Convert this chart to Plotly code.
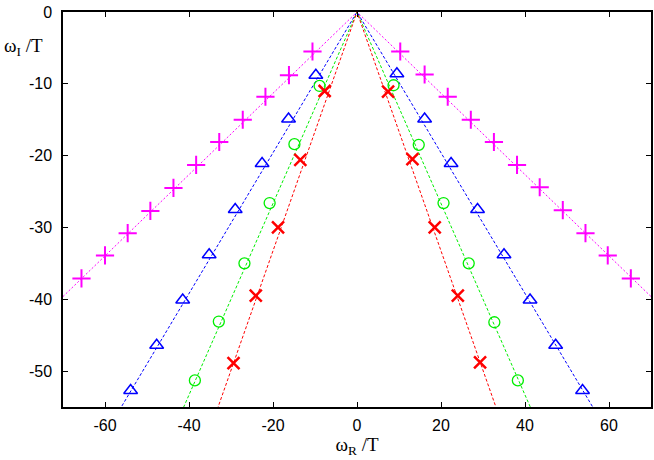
import plotly.graph_objects as go

# values (omega_R/T, omega_I/T) for each branch
plus_x = [-65.6, -60.0, -54.6, -49.2, -43.7, -38.3, -32.8, -27.2, -21.8, -16.2, -10.6,
          10.3, 16.1, 21.6, 27.1, 32.6, 38.1, 43.5, 49.0, 54.4, 59.7, 65.2]
plus_y = [-37.1, -33.9, -30.8, -27.7, -24.5, -21.3, -18.1, -15.0, -11.8, -8.8, -5.5,
          -5.5, -8.7, -11.8, -15.0, -18.1, -21.3, -24.4, -27.6, -30.8, -33.9, -37.1]

tri_x = [-53.9, -47.7, -41.5, -35.2, -29.0, -22.6, -16.3, -9.8,
         9.5, 16.1, 22.4, 28.7, 35.0, 41.2, 47.3, 53.7]
tri_y = [-52.7, -46.4, -40.1, -33.8, -27.5, -21.1, -14.9, -8.8,
         -8.6, -14.9, -21.1, -27.5, -33.8, -40.1, -46.4, -52.7]

circ_x = [-38.6, -32.9, -26.8, -20.8, -14.9, -8.9,
          8.7, 14.7, 20.6, 26.6, 32.7, 38.3]
circ_y = [-51.3, -43.1, -35.0, -26.6, -18.4, -10.3,
          -10.2, -18.5, -26.6, -35.0, -43.2, -51.3]

cross_x = [-29.4, -24.1, -18.8, -13.5, -7.7,
           7.4, 13.2, 18.5, 24.0, 29.3]
cross_y = [-48.9, -39.5, -30.0, -20.6, -11.0,
           -11.1, -20.5, -30.0, -39.5, -48.8]

# slopes of the dashed guide lines |omega_I| = s * |omega_R|
slope_plus = 0.566
slope_tri = 0.98
slope_circ = 1.333
slope_cross = 1.663

x_ticks = [-60, -40, -20, 0, 20, 40, 60]
x_ticktext = ["-60", "-40", "-20", "0", "20", "40", "60"]
y_ticks = [-50, -40, -30, -20, -10, 0]
y_ticktext = ["-50", "-40", "-30", "-20", "-10", "0"]

line_x = [-70, 0, 70]

series = [
    (plus_x, plus_y, slope_plus, "#ff00ff", "cross-thin-open", 13, 2, "2px,2px"),
    (tri_x, tri_y, slope_tri, "#0000ff", "triangle-up-open", 12, 1.5, "3px,2px"),
    (circ_x, circ_y, slope_circ, "#00ee00", "circle-open", 11, 1.3, "3px,2px"),
    (cross_x, cross_y, slope_cross, "#ff0000", "x-thin-open", 12, 2.5, "3px,2px"),
]

fig = go.Figure()
for xs, ys, s, col, sym, size, lw, dash in series:
    fig.add_trace(go.Scatter(
        x=line_x, y=[-s * abs(v) for v in line_x], mode="lines",
        line=dict(color=col, width=1, dash=dash), showlegend=False, hoverinfo="skip"))
    fig.add_trace(go.Scatter(
        x=xs, y=ys, mode="markers", showlegend=False,
        marker=dict(symbol=sym, size=size, color=col, line=dict(color=col, width=lw))))

axis_common = dict(
    showgrid=False, zeroline=False, showline=True, linecolor="black", linewidth=1.5,
    mirror="ticks", ticks="inside", ticklen=5, tickwidth=1, tickcolor="black",
    tickfont=dict(family="Liberation Sans, Arial", size=16, color="black"),
)

fig.update_xaxes(range=[-70, 70], tickvals=x_ticks, ticktext=x_ticktext,
                 ticklabelstandoff=3,
                 title=dict(text="ω<sub>R</sub> /T", standoff=2,
                            font=dict(family="Liberation Serif, Times New Roman", size=19, color="black")),
                 **axis_common)
fig.update_yaxes(range=[-55, 0], tickvals=y_ticks, ticktext=y_ticktext,
                 ticklabelstandoff=6, **axis_common)

fig.add_annotation(text="ω<sub>I</sub> /T", xref="paper", yref="paper",
                   x=-0.104, y=0.911, xanchor="left", yanchor="middle", showarrow=False,
                   font=dict(family="Liberation Serif, Times New Roman", size=19, color="black"))

fig.update_layout(
    width=654, height=460,
    margin=dict(l=63, r=1, t=12, b=53),
    plot_bgcolor="white", paper_bgcolor="white",
)

# page has a default body margin; drop it so the figure sits at the window corner
fig.write_html("out.html", config={"displayModeBar": False},
               post_script="document.body.style.margin='0';")
